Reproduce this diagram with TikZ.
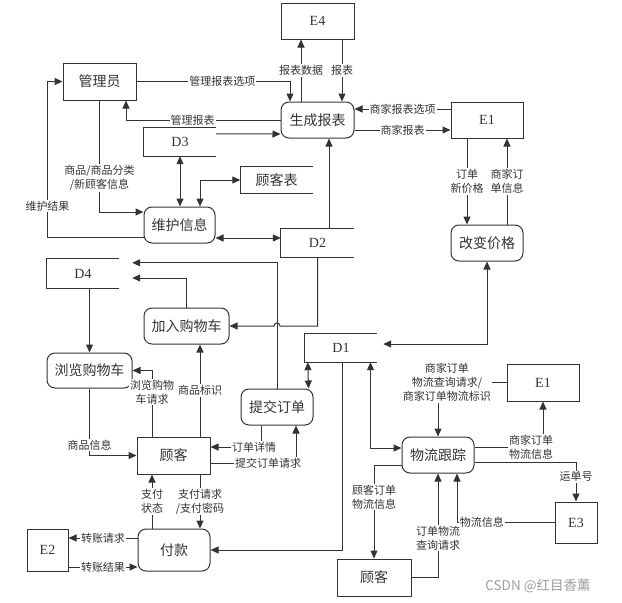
\documentclass[tikz,border=0pt]{standalone}
\usepackage{fontspec}
\setmainfont{Noto Sans CJK SC}
\newfontfamily\latserif{Liberation Serif}
\usetikzlibrary{arrows.meta}
\definecolor{ink}{HTML}{333333}

\begin{document}
\begin{tikzpicture}[x=1pt,y=-1pt,
  base/.style={draw=ink, line width=1pt, text=ink, inner sep=0pt},
  ent/.style={base, font=\latserif\fontsize{14}{16}\selectfont},
  actor/.style={base, font=\fontsize{14}{16}\selectfont},
  proc/.style={base, rounded corners=8pt, font=\fontsize{14}{16}\selectfont},
  store/.style={inner sep=0pt, text=ink, font=\latserif\fontsize{14}{16}\selectfont},
  flow/.style={draw=ink, line width=1pt, -{Triangle[length=8pt,width=7pt]}},
  bflow/.style={draw=ink, line width=1pt, {Triangle[length=8pt,width=7pt]}-{Triangle[length=8pt,width=7pt]}},
  lab/.style={fill=white, inner sep=1pt, text=ink, font=\fontsize{11}{14}\selectfont, align=center}]

\useasboundingbox (0,0) rectangle (622,603);

% external entities and actors
\node[ent, minimum width=73pt, minimum height=36pt] (e4) at (317.5,21) {E4};
\node[actor, minimum width=73pt, minimum height=37pt] (admin) at (99.5,81.5) {管理员};
\node[ent, minimum width=72pt, minimum height=36pt] (e1a) at (487,120) {E1};
\node[ent, minimum width=72pt, minimum height=37pt] (e1b) at (543,382.5) {E1};
\node[ent, minimum width=41pt, minimum height=42pt] (e2) at (47.5,550) {E2};
\node[ent, minimum width=42pt, minimum height=41pt] (e3) at (576,522.5) {E3};
\node[actor, minimum width=73pt, minimum height=37pt] (cust) at (173.5,455.5) {顾客};
\node[actor, minimum width=74pt, minimum height=37pt] (cust2) at (374,577.5) {顾客};

% processes
\node[proc, minimum width=73pt, minimum height=36pt] (gen) at (317.5,120) {生成报表};
\node[proc, minimum width=71pt, minimum height=36pt] (maint) at (179.5,225) {维护信息};
\node[proc, minimum width=72pt, minimum height=36pt] (price) at (487,243) {改变价格};
\node[proc, minimum width=85pt, minimum height=36pt] (cart) at (186.5,326) {加入购物车};
\node[proc, minimum width=85pt, minimum height=35pt] (browse) at (89.5,370.5) {浏览购物车};
\node[proc, minimum width=72pt, minimum height=36pt] (submit) at (277,407) {提交订单};
\node[proc, minimum width=72pt, minimum height=42pt] (pay) at (174,550) {付款};
\node[proc, minimum width=72pt, minimum height=36pt] (track) at (438,455) {物流跟踪};

% data stores (open on the right)
\node[store, minimum width=72pt, minimum height=28pt] (d3) at (180,142) {D3};
\node[store, minimum width=72pt, minimum height=27pt] (ctab) at (276.5,180) {\fontsize{14}{16}\selectfont\rmfamily 顾客表};
\node[store, minimum width=73pt, minimum height=28pt] (d2) at (317.5,243) {D2};
\node[store, minimum width=72pt, minimum height=29pt] (d4) at (83,273.5) {D4};
\node[store, minimum width=72pt, minimum height=28pt] (d1) at (341,348) {D1};
\foreach \s in {d1,d2,d3,d4,ctab}
  \draw[ink, line width=1pt] (\s.north east) -- (\s.north west) -- (\s.south west) -- (\s.south east);

% report generation
\draw[flow] (admin.east) -| node[lab, pos=0.28] {管理报表选项} ([xshift=-27.5pt]gen.north);
\draw[flow] (gen.west) -| node[lab, pos=0.284] {管理报表} ([xshift=26.5pt]admin.south);
\draw[flow] ([yshift=-6pt]d3.north east) -- ([yshift=-14pt]gen.west);
\draw[flow] ([xshift=-16.5pt]gen.north) -- node[lab] {报表数据} ([xshift=-16.5pt]e4.south);
\draw[flow] ([xshift=24.5pt]e4.south) -- node[lab] {报表} ([xshift=24.5pt]gen.north);
\draw[flow] ([yshift=11pt]e1a.west) -- node[lab] {商家报表选项} ([yshift=11pt]gen.east);
\draw[flow] ([yshift=-10pt]gen.east) -- node[lab] {商家报表} ([yshift=-10pt]e1a.west);
\draw[flow] ([xshift=11.5pt]d2.north) -- ([xshift=11.5pt]gen.south);

% price change
\draw[flow] ([xshift=-20pt]e1a.south) -- node[lab] {订单\\新价格} ([xshift=-20pt]price.north);
\draw[flow] ([xshift=20pt]price.north) -- node[lab] {商家订\\单信息} ([xshift=20pt]e1a.south);
\draw[bflow] (price.south) |- ([xshift=6pt,yshift=4pt]d1.east);

% maintenance
\draw[bflow] ([yshift=-13pt]maint.east) -- ([yshift=5pt]d2.west);
\draw[bflow] (d3.south) -- (d3.south |- maint.north);
\draw[bflow] ([xshift=20.5pt]maint.north) |- (ctab.west);
\draw[flow] (admin.south) |- node[lab, pos=0.348] {商品/商品分类\\/新顾客信息} ([yshift=13pt]maint.west);
\draw[flow] ([yshift=-12pt]maint.west) -| node[lab, pos=0.6] {维护结果} ([xshift=-15pt]admin.west) -- (admin.west);

% shopping cart
\coordinate (hop) at (submit.north |- cart.east);
\draw[flow] (submit.north) |- ([xshift=13pt,yshift=-4pt]d4.north east);
\draw[flow] (cart.north) |- ([xshift=13pt,yshift=-4.5pt]d4.east);
\draw[flow] (d2.south) |- ([xshift=3pt]hop) arc[start angle=0, end angle=180, radius=3pt] -- (cart.east);
\draw[flow] (d4.south -| browse.north) -- (browse.north);
\draw[flow] ([xshift=-21.5pt]cust.north) |- node[lab, pos=0.338] {浏览购物\\车请求} (browse.east);
\draw[flow] (browse.south) |- node[lab, pos=0.42] {商品信息} (cust.west);
\draw[flow] ([xshift=26.5pt]cust.north) -- node[lab] {商品标识} ([xshift=13.5pt]cart.south);

% orders
\draw[flow] ([xshift=-16pt]submit.south) |- node[lab, pos=0.569] {订单详情} ([yshift=8.5pt]cust.east);
\draw[flow] ([yshift=-7.5pt]cust.east) -| node[lab, pos=0.337] {提交订单请求} ([xshift=19pt]submit.south);
\draw[bflow] ([xshift=3pt]d1.south west) -- ([xshift=-5pt]submit.north east);
\draw[flow] ([xshift=1pt]d1.south) |- (pay.east);
\draw[bflow] ([xshift=29.5pt]d1.south) |- ([yshift=7pt]track.west);

% payment
\draw[flow] ([xshift=26.5pt]cust.south) -- node[lab] {支付请求\\/支付密码} ([xshift=26pt]pay.north);
\draw[flow] ([xshift=-22pt]pay.north) -- node[lab] {支付\\状态} ([xshift=-21.5pt]cust.south);
\draw[flow] ([yshift=12pt]pay.west) -- node[lab] {转账请求} ([yshift=12pt]e2.east);
\draw[flow] ([yshift=-17pt]e2.east) -- node[lab] {转账结果} ([yshift=-17pt]pay.west);

% logistics tracking
\draw[flow] (e1b.west) -| node[lab, pos=0.435] {商家订单\\物流查询请求/\\商家订单物流标识} (track.north);
\draw[flow] ([yshift=8pt]track.east) -| node[lab, pos=0.413] {商家订单\\物流信息} (e1b.south);
\draw[flow] ([yshift=-7pt]track.east) -| node[lab, pos=0.6875] {运单号} (e3.north);
\draw[flow] (e3.west) -| node[lab, pos=0.372] {物流信息} ([xshift=19pt]track.south);
\draw[flow] (cust2.east) -| node[lab, pos=0.689] {订单物流\\查询请求} (track.south);
\draw[flow] ([yshift=-10pt]track.west) -| node[lab, pos=0.67] {顾客订单\\物流信息} (cust2.north);

% watermark
\node[text=black!38, font=\fontsize{13.5}{15}\selectfont, inner sep=0pt] (wm) at (538,586) {CSDN @红目香薰};
\end{tikzpicture}
\end{document}
